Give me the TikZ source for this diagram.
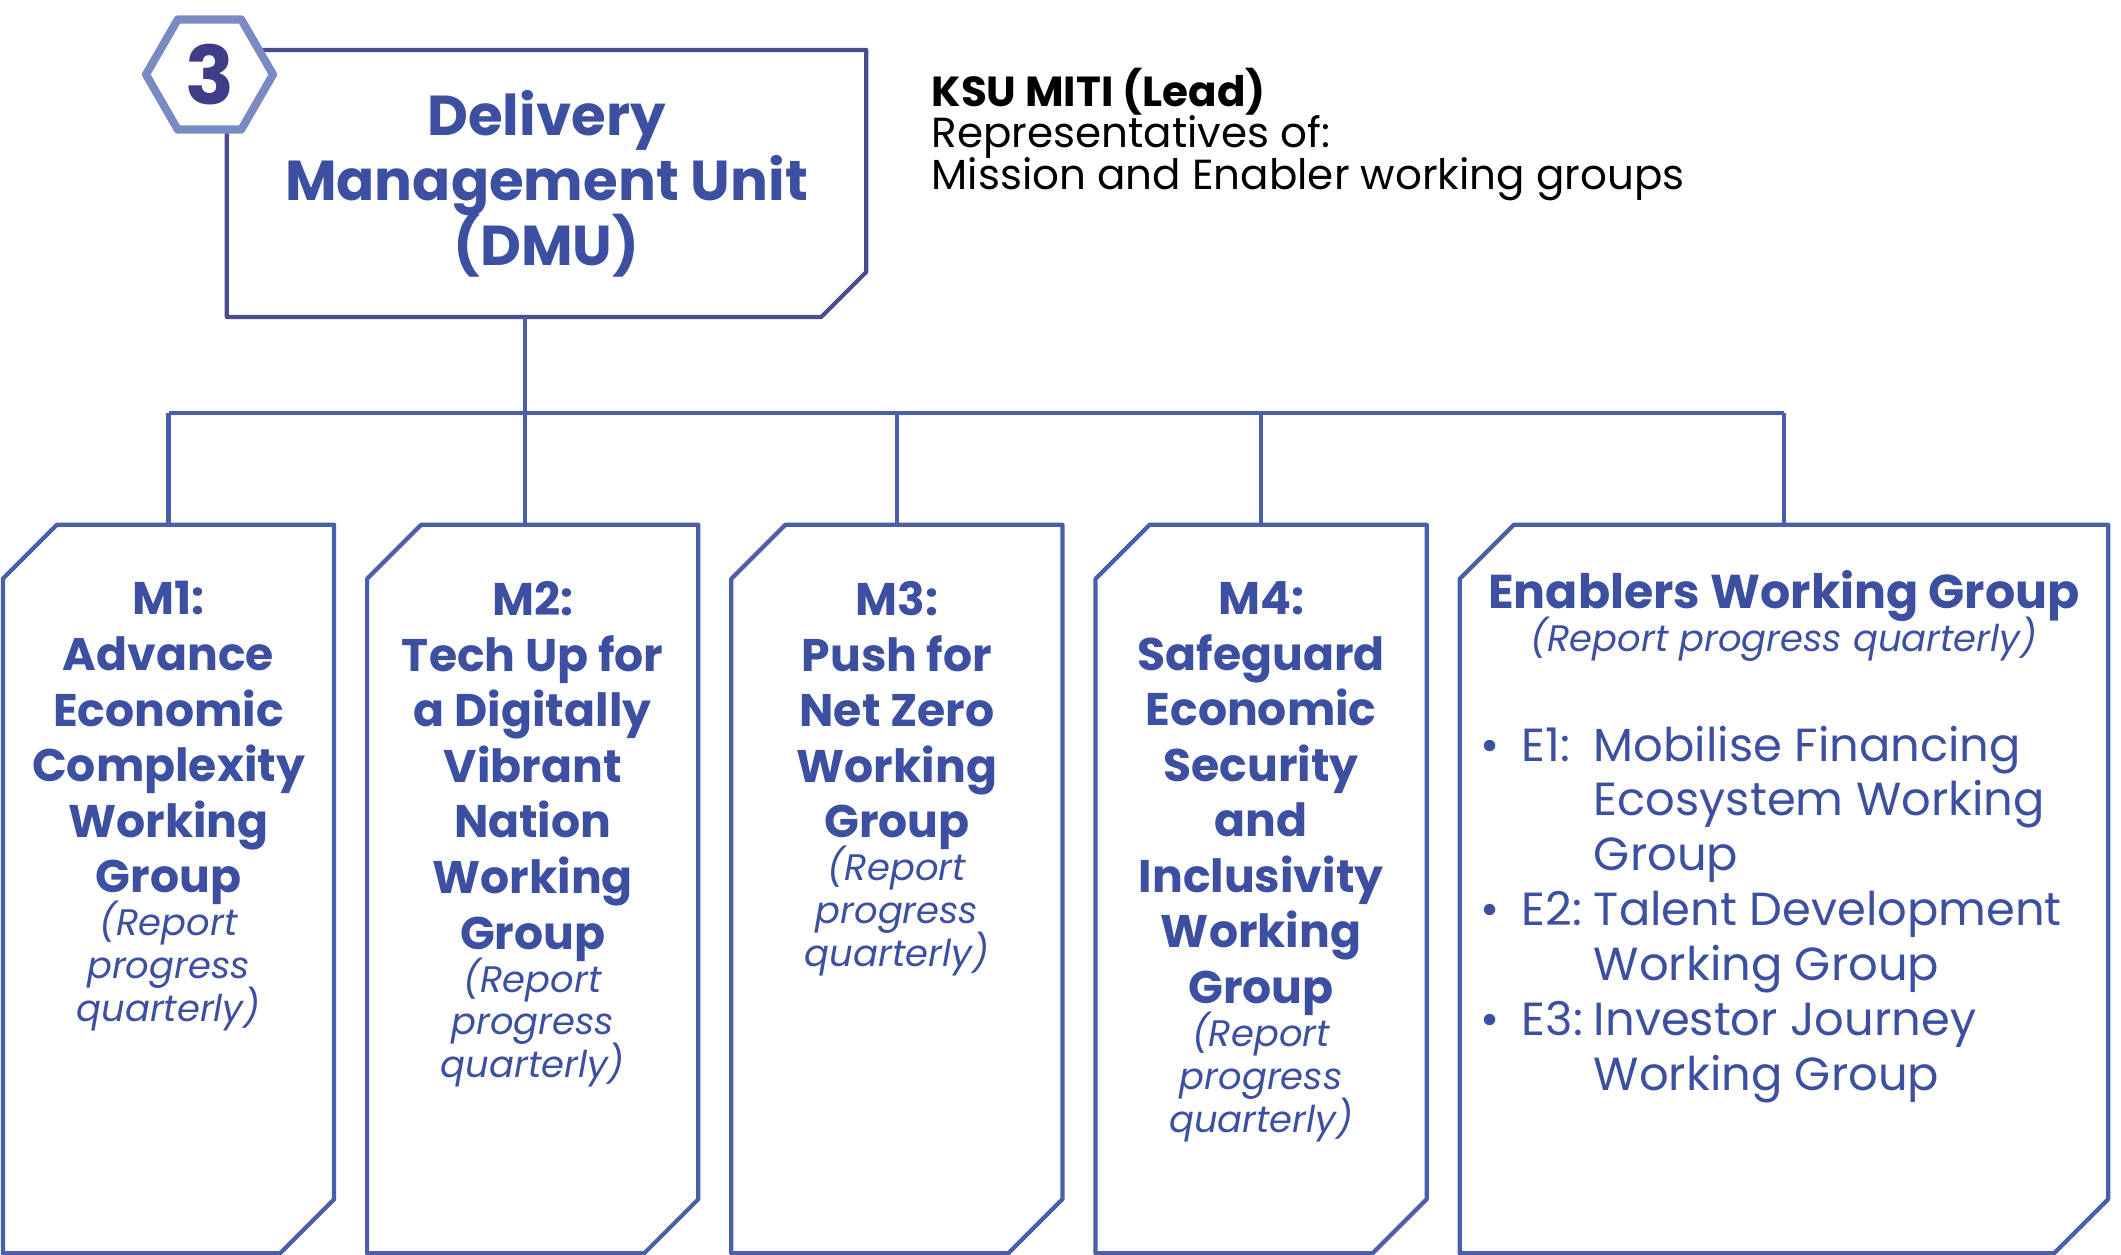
\documentclass[tikz,border=0pt]{standalone}
\usepackage{fontspec}
\setmainfont{Poppins}
\usepackage{tikz}
\usetikzlibrary{positioning,shapes.geometric}
\setlength{\lineskiplimit}{-100pt}

\definecolor{dmuline}{HTML}{4B4B90}
\definecolor{wgblue}{HTML}{4A5EAB}
\definecolor{textblue}{HTML}{3C4FA1}
\definecolor{hexblue}{HTML}{7A8BC4}
\definecolor{hexnum}{HTML}{3F3C88}

\begin{document}
\begin{tikzpicture}[
  x=0.01cm, y=-0.01cm,
  dmubox/.style={rectangle, inner sep=0pt, outer sep=0pt,
               minimum width=6.39cm, minimum height=2.67cm, align=center,
               font=\fontsize{16}{18.5}\selectfont\bfseries, text=textblue},
  hexmark/.style={regular polygon, regular polygon sides=6, draw=hexblue,
               line width=2.3pt, line join=round, fill=white, inner sep=0pt,
               minimum size=1.27cm, text=hexnum,
               font=\fontsize{23}{23}\selectfont\bfseries},
  wgbox/.style={rectangle, inner sep=0pt, outer sep=0pt,
               minimum width=3.31cm, minimum height=7.28cm},
  frame/.style={line width=1.2pt, line join=round},
  wgtitle/.style={font=\fontsize{13}{15.8}\selectfont\bfseries, text=textblue,
               align=center, inner sep=0pt},
  wgnote/.style={font=\fontsize{10.5}{12.2}\selectfont\itshape, text=textblue,
               align=center, inner sep=0pt},
  wgitems/.style={font=\fontsize{13.2}{15.6}\selectfont, text=textblue,
               inner sep=0pt, anchor=north west},
  lead/.style={font=\fontsize{11.95}{11.9}\selectfont, align=left,
               inner sep=0pt, anchor=north west},
  link/.style={draw=wgblue, line width=1.2pt},
]
  \useasboundingbox (0,0) rectangle (2121,1255);

  % top unit
  \node[dmubox] (dmu) at (546.5,183.5) {Delivery\\Management Unit\\(DMU)};
  \draw[frame,dmuline] (dmu.north west) -- (dmu.north east)
    -- ([yshift=0.45cm]dmu.south east) -- ([xshift=-0.45cm]dmu.south east)
    -- (dmu.south west) -- cycle;
  \node[hexmark] (num) at (209.5,74.5) {3};
  \node[lead] (leadtext) at (931,67)
    {\textbf{KSU MITI (Lead)}\\Representatives of:\\Mission and Enabler working groups};

  % working groups
  \node[wgbox] at (168.5,889) (m1) {};
  \node[wgbox,right=0.33cm of m1] (m2) {};
  \node[wgbox,right=0.33cm of m2] (m3) {};
  \node[wgbox,right=0.33cm of m3] (m4) {};
  \node[wgbox,right=0.33cm of m4,minimum width=6.48cm] (ewg) {};
  \foreach \b in {m1,m2,m3,m4,ewg}
    \draw[frame,wgblue] ([yshift=-0.54cm]\b.north west) -- ([xshift=0.54cm]\b.north west)
      -- (\b.north east) -- ([yshift=0.54cm]\b.south east)
      -- ([xshift=-0.54cm]\b.south east) -- (\b.south west) -- cycle;

  \node[wgtitle,below=0.56cm of m1.north] (m1t)
    {M1:\\Advance\\Economic\\Complexity\\Working\\Group};
  \node[wgnote,below=-0.05cm of m1t] (m1n) {(Report\\progress\\quarterly)};
  \node[wgtitle,below=0.56cm of m2.north] (m2t)
    {M2:\\Tech Up for\\a Digitally\\Vibrant\\Nation\\Working\\Group};
  \node[wgnote,below=-0.05cm of m2t] (m2n) {(Report\\progress\\quarterly)};
  \node[wgtitle,below=0.56cm of m3.north] (m3t)
    {M3:\\Push for\\Net Zero\\Working\\Group};
  \node[wgnote,below=-0.05cm of m3t] (m3n) {(Report\\progress\\quarterly)};
  \node[wgtitle,below=0.56cm of m4.north] (m4t)
    {M4:\\Safeguard\\Economic\\Security\\and\\Inclusivity\\Working\\Group};
  \node[wgnote,below=-0.05cm of m4t] (m4n) {(Report\\progress\\quarterly)};

  \node[wgtitle,font=\fontsize{13.5}{15.8}\selectfont\bfseries,
        below=0.45cm of ewg.north] (ewgt) {Enablers Working Group};
  \node[wgnote,below=-0.06cm of ewgt] (ewgn) {(Report progress quarterly)};
  \node[wgitems] (ewgi) at (1480,722) {\lineskiplimit=0pt\relax
    \begin{tabular}{@{}l@{\hspace{0.22cm}}l@{\hspace{0.11cm}}l@{}}
      \textbullet & E1: & Mobilise Financing\\
                  &     & Ecosystem Working\\
                  &     & Group\\
      \textbullet & E2: & Talent Development\\
                  &     & Working Group\\
      \textbullet & E3: & Investor Journey\\
                  &     & Working Group
    \end{tabular}};

  % connectors
  \coordinate (hub) at (525,413);
  \draw[link] (hub |- dmu.south) -- (hub |- m2.north);
  \draw[link] (m1.north |- hub) -- (ewg.north |- hub);
  \draw[link] (m1.north) -- (m1.north |- hub);
  \draw[link] (m3.north) -- (m3.north |- hub);
  \draw[link] (m4.north) -- (m4.north |- hub);
  \draw[link] (ewg.north) -- (ewg.north |- hub);
\end{tikzpicture}
\end{document}
